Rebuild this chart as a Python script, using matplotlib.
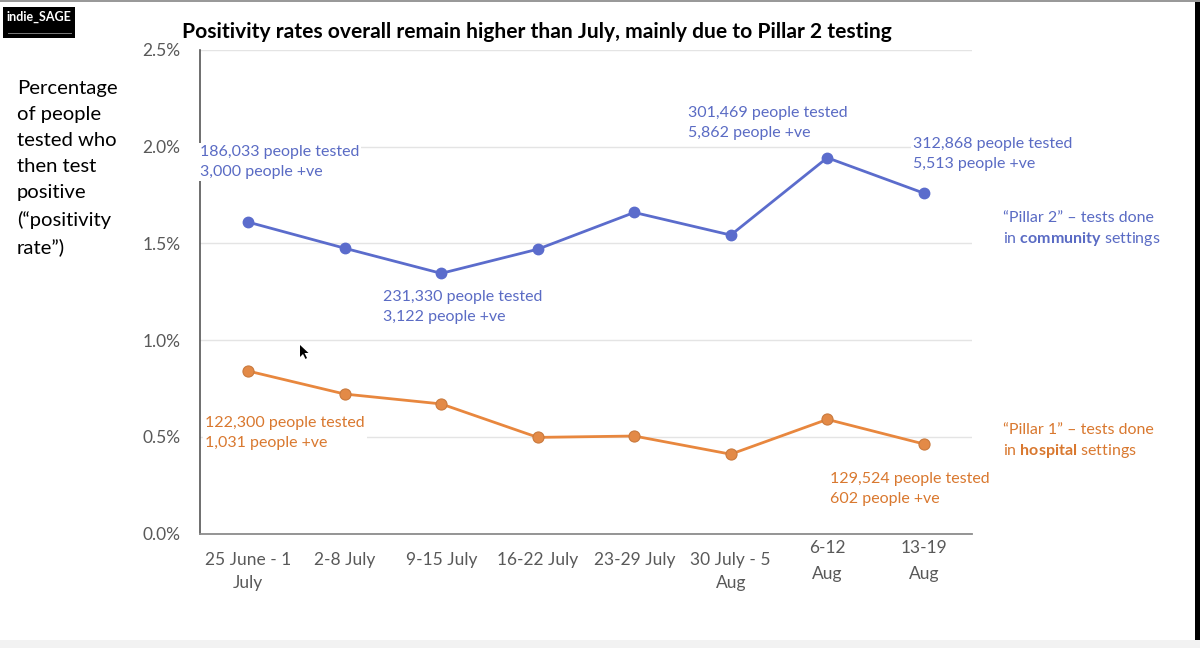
import matplotlib
matplotlib.use("Agg")
import matplotlib.pyplot as plt
from matplotlib.patches import Rectangle, Polygon
from matplotlib.transforms import blended_transform_factory

plt.rcParams['font.family'] = ['Lato', 'DejaVu Sans']
plt.rcParams['mathtext.fontset'] = 'custom'
plt.rcParams['mathtext.rm'] = 'Lato'
plt.rcParams['mathtext.bf'] = 'Lato:bold'

# ---------------- data ----------------
categories = ["25 June - 1\nJuly", "2-8 July", "9-15 July", "16-22 July",
              "23-29 July", "30 July - 5\nAug", "6-12\nAug", "13-19\nAug"]
pillar2 = [1.61, 1.475, 1.345, 1.47, 1.66, 1.543, 1.943, 1.76]   # % positive, community
pillar1 = [0.84, 0.721, 0.67, 0.497, 0.504, 0.41, 0.59, 0.463]   # % positive, hospital
yticks = [0.0, 0.5, 1.0, 1.5, 2.0, 2.5]
ytick_labels = ["0.0%", "0.5%", "1.0%", "1.5%", "2.0%", "2.5%"]

title = "Positivity rates overall remain higher than July, mainly due to Pillar 2 testing"
ylabel_text = "Percentage\nof people\ntested who\nthen test\npositive\n(\u201cpositivity\nrate\u201d)"
p2_notes = ["186,033 people tested\n3,000 people +ve",
            "231,330 people tested\n3,122 people +ve",
            "301,469 people tested\n5,862 people +ve",
            "312,868 people tested\n5,513 people +ve"]
p1_notes = ["122,300 people tested\n1,031 people +ve",
            "129,524 people tested\n602 people +ve"]
p2_legend = "\u201cPillar 2\u201d \u2013 tests done\nin $\\mathbf{community}$ settings"
p1_legend = "\u201cPillar 1\u201d \u2013 tests done\nin $\\mathbf{hospital}$ settings"

BLUE = "#5b6ccc"
BLUE_TXT = "#5a6bc4"
ORANGE = "#e8873e"
ORANGE_TXT = "#d9782f"
GRAY_TXT = "#595959"

W, H = 1200, 648
fig = plt.figure(figsize=(W / 100, H / 100), dpi=100)
fig.patch.set_facecolor("white")

def fx(px):
    return px / W

def fy(py):
    return 1 - py / H

ax = fig.add_axes([fx(200), fy(533.5), fx(972) - fx(200), fy(50) - fy(533.5)])
x = list(range(len(categories)))
ax.set_xlim(-0.5, len(categories) - 0.5)
ax.set_ylim(0, 2.5)

ax.grid(axis="y", color="#e4e4e4", linewidth=1.0, zorder=0)
ax.set_axisbelow(True)
for s in ["top", "right"]:
    ax.spines[s].set_visible(False)
ax.spines["left"].set_color("#555555")
ax.spines["left"].set_linewidth(1.2)
ax.spines["bottom"].set_color("#8c8c8c")
ax.spines["bottom"].set_linewidth(1.3)
ax.set_yticks(yticks)
ax.set_yticklabels(ytick_labels, color=GRAY_TXT, fontsize=12.5)
ax.tick_params(axis="y", length=0, pad=14)
ax.set_xticks(x)
ax.set_xticklabels([])
ax.tick_params(axis="x", length=0)

ax.plot(x, pillar2, color=BLUE, lw=2.0, marker="o", ms=7.5,
        markerfacecolor=BLUE, markeredgecolor=BLUE, zorder=3)
ax.plot(x, pillar1, color=ORANGE, lw=2.0, marker="o", ms=8,
        markerfacecolor="#e38a47", markeredgecolor="#c97a3e", markeredgewidth=0.8, zorder=3)

# x category labels (two-line ones in last two columns sit higher)
tr = blended_transform_factory(ax.transData, ax.transAxes)
for i, lab in enumerate(categories):
    top_off = -13.5 if i < 6 else -4.5
    ax.annotate(lab, xy=(i, 0), xycoords=tr, xytext=(0, top_off), textcoords="offset points",
                ha="center", va="top", fontsize=12.5, color=GRAY_TXT,
                linespacing=1.5 if i < 6 else 1.75, annotation_clip=False)

# annotations (pixel positions of left/top of text blocks)
box = dict(facecolor="white", edgecolor="none", pad=1.5)
NOTE_FS = 11.5
def ptext(px, py, s, color, **kw):
    fig.text(fx(px), fy(py), s, color=color, ha="left", va="top", fontsize=NOTE_FS,
             linespacing=1.57, bbox=box, zorder=10, **kw)

ptext(200, 145, p2_notes[0], BLUE_TXT)
ptext(383, 290, p2_notes[1], BLUE_TXT)
ptext(688, 106, p2_notes[2], BLUE_TXT)
ptext(913, 137, p2_notes[3], BLUE_TXT)
ptext(205, 416, p1_notes[0], ORANGE_TXT)
ptext(830, 472, p1_notes[1], ORANGE_TXT)
fig.text(fx(1003), fy(211), p2_legend, color=BLUE_TXT, ha="left", va="top",
         fontsize=NOTE_FS, linespacing=1.42)
fig.text(fx(1003), fy(423), p1_legend, color=ORANGE_TXT, ha="left", va="top",
         fontsize=NOTE_FS, linespacing=1.42)

# title and y label
fig.text(fx(537), fy(32), title, ha="center", va="center", fontsize=15.1,
         fontweight="bold", color="black")
fig.text(fx(17), fy(80), ylabel_text, ha="left", va="top", fontsize=14.6,
         color="black", linespacing=1.64)

# logo
fig.patches.append(Rectangle((fx(3), fy(38)), fx(72), fy(7) - fy(38),
                             transform=fig.transFigure, facecolor="black", edgecolor="none"))
fig.text(fx(7), fy(17), "indie_SAGE", color="white", fontsize=9, fontweight="bold",
         ha="left", va="center")
fig.patches.append(Rectangle((fx(8), fy(34)), fx(64), fy(33) - fy(34),
                             transform=fig.transFigure, facecolor="#777777", edgecolor="none"))

# slide frame: right dark edge, bottom gray strip, top thin line
fig.patches.append(Rectangle((fx(1195), fy(640)), fx(5), fy(0) - fy(640),
                             transform=fig.transFigure, facecolor="black", edgecolor="none"))
fig.patches.append(Rectangle((0, 0), 1, fy(640), transform=fig.transFigure,
                             facecolor="#f2f2f2", edgecolor="none"))
fig.patches.append(Rectangle((0, fy(1.5)), 1, fy(0) - fy(1.5), transform=fig.transFigure,
                             facecolor="#999999", edgecolor="none"))

# mouse pointer
cur = [(300, 345), (300, 357), (303, 354), (305.5, 359), (307, 358), (304.5, 353), (308.5, 353)]
fig.patches.append(Polygon([(fx(a), fy(b)) for a, b in cur], closed=True,
                           transform=fig.transFigure, facecolor="black", edgecolor="none"))

fig.savefig("out.png", dpi=100, facecolor="white")
